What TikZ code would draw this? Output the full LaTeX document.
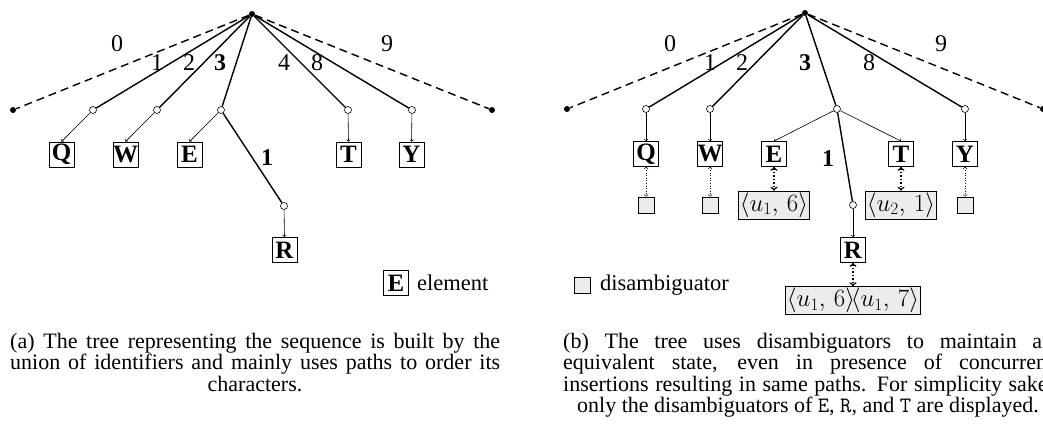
\documentclass[tikz,border=0pt]{standalone}
\usepackage[no-math]{fontspec}
\setmainfont{Liberation Serif}
\begin{document}
\begin{tikzpicture}[x=1pt,y=-1pt,
  edge/.style={line width=1.4pt},
  dashedge/.style={line width=1.4pt, dash pattern=on 8pt off 5pt},
  rootdot/.style={circle,fill,inner sep=0pt,minimum size=6pt},
  hole/.style={circle,draw,fill=white,inner sep=0pt,minimum size=7pt,line width=0.6pt},
  elem/.style={draw,line width=0.8pt,inner sep=0pt,minimum width=25pt,minimum height=25pt,font=\fontsize{25}{25}\selectfont\bfseries},
  arr/.style={->,>=to,line width=0.6pt},
  lbl/.style={font=\fontsize{24}{24}\selectfont, inner sep=0pt},
  blbl/.style={font=\fontsize{24}{24}\selectfont\bfseries, inner sep=0pt},
  legtext/.style={font=\fontsize{22.5}{22.5}\selectfont, inner sep=0pt, anchor=west},
  dbox/.style={draw,fill=gray!15,line width=0.8pt,minimum size=16pt,inner sep=0pt},
  dtext/.style={draw,fill=gray!15,line width=0.8pt,inner sep=1.5pt,minimum height=26pt,font=\fontsize{24}{24}\selectfont},
  thinlink/.style={<->,>=to,dotted,line width=0.6pt},
  thicklink/.style={<->,>=to,dotted,line width=1.5pt},
  captext/.style={font=\fontsize{22}{22}\selectfont, inner sep=0pt, anchor=base west},
  captextc/.style={font=\fontsize{22}{22}\selectfont, inner sep=0pt, anchor=base},
]
\clip (0,0) rectangle (1043,423);

% ---------------- (a) ----------------
\node[rootdot] (ra) at (252,14) {};
\node[rootdot] (a0) at (13,110) {};
\node[rootdot] (a9) at (492,110) {};
\node[hole] (ahq) at (93,110) {};
\node[hole] (ahw) at (157,110) {};
\node[hole] (ahe) at (221,110) {};
\node[hole] (aht) at (348,110) {};
\node[hole] (ahy) at (412,110) {};
\node[hole] (ahr) at (284,206) {};
\node[elem] (aQ) at (61.5,154.5) {Q};
\node[elem] (aW) at (125.5,154.5) {W};
\node[elem] (aE) at (189.5,154.5) {E};
\node[elem] (aT) at (348.5,154.5) {T};
\node[elem] (aY) at (411.5,154.5) {Y};
\node[elem] (aR) at (284.5,250) {R};

\draw[dashedge] (ra) -- (a0);
\draw[dashedge] (ra) -- (a9);
\draw[edge] (ra) -- (ahq);
\draw[edge] (ra) -- (ahw);
\draw[edge] (ra) -- (ahe);
\draw[edge] (ra) -- (aht);
\draw[edge] (ra) -- (ahy);
\draw[edge] (ahe) -- (ahr);
\draw[arr] (ahq) -- (aQ.north);
\draw[arr] (ahw) -- (aW.north);
\draw[arr] (ahe) -- (aE.north);
\draw[arr] (aht) -- (aT.north);
\draw[arr] (ahy) -- (aY.north);
\draw[arr] (ahr) -- (aR.north);

\node[lbl] (al0) at (117,44) {0};
\node[lbl] (al9) at (387,44) {9};
\node[lbl] (al1) at (157,63) {1};
\node[lbl] (al2) at (189,63) {2};
\node[blbl] (al3) at (220,63) {3};
\node[lbl] (al4) at (284,63) {4};
\node[lbl] (al8) at (317,63) {8};
\node[blbl] (al1b) at (267,158) {1};

\node[elem] (alegE) at (396,283) {E};
\node[legtext] (alegT) at (417,283) {element};

% ---------------- (b) ----------------
\node[rootdot] (rb) at (805,13) {};
\node[rootdot] (b0) at (567,109) {};
\node[rootdot] (b9) at (1043,109) {};
\node[hole] (bhq) at (646,109) {};
\node[hole] (bhw) at (710,109) {};
\node[hole] (bhe) at (837,109) {};
\node[hole] (bhy) at (965,109) {};
\node[hole] (bhr) at (853,205) {};
\node[elem] (bQ) at (646,154) {Q};
\node[elem] (bW) at (710,154) {W};
\node[elem] (bE) at (774,154) {E};
\node[elem] (bT) at (901,154) {T};
\node[elem] (bY) at (965,154) {Y};
\node[elem] (bR) at (853,250) {R};

\node[dbox] (dq) at (646,205) {};
\node[dbox] (dw) at (710,205) {};
\node[dbox] (dy) at (965,205) {};
\node[dtext] (de) at (774,205) {$\langle u_1,\,6\rangle$};
\node[dtext] (dt) at (901,205) {$\langle u_2,\,1\rangle$};
\node[dtext] (dr) at (853,300.5) {$\langle u_1,\,6\rangle\!\langle u_1,\,7\rangle$};

\draw[dashedge] (rb) -- (b0);
\draw[dashedge] (rb) -- (b9);
\draw[edge] (rb) -- (bhq);
\draw[edge] (rb) -- (bhw);
\draw[edge] (rb) -- (bhe);
\draw[edge] (rb) -- (bhy);
\draw[edge] (bhe) -- (bhr);
\draw[arr] (bhq) -- (bQ.north);
\draw[arr] (bhw) -- (bW.north);
\draw[arr] (bhe) -- (bE.north);
\draw[arr] (bhe) -- (bT.north);
\draw[arr] (bhy) -- (bY.north);
\draw[arr] (bhr) -- (bR.north);

\draw[thinlink] (bQ) -- (dq);
\draw[thinlink] (bW) -- (dw);
\draw[thinlink] (bY) -- (dy);
\draw[thicklink] (bE) -- (de);
\draw[thicklink] (bT) -- (dt);
\draw[thicklink] (bR) -- (dr);

\node[lbl] (bl0) at (670,44) {0};
\node[lbl] (bl9) at (941,44) {9};
\node[lbl] (bl1) at (710,63) {1};
\node[lbl] (bl2) at (742,63) {2};
\node[blbl] (bl3) at (805,63) {3};
\node[lbl] (bl8) at (869,63) {8};
\node[blbl] (bl1b) at (828,159) {1};

\node[dbox] (blegB) at (582,285) {};
\node[legtext] (blegT) at (600,285) {disambiguator};

% ---------------- captions ----------------
\node[captext] (ca1) at (10,348) {\makebox[490pt][s]{(a) The tree representing the sequence is built by the}};
\node[captext] (ca2) at (10,369.5) {\makebox[490pt][s]{union of identifiers and mainly uses paths to order its}};
\node[captextc] (ca3) at (255,391) {characters.};

\node[captext] (cb1) at (563,348) {\makebox[490pt][s]{(b) The tree uses disambiguators to maintain an}};
\node[captext] (cb2) at (563,369.5) {\makebox[490pt][s]{equivalent state, even in presence of concurrent}};
\node[captext] (cb3) at (563,391) {\makebox[490pt][s]{insertions resulting in same paths. For simplicity sake,}};
\node[captextc] (cb4) at (808,412.5) {only the disambiguators of \texttt{E}, \texttt{R}, and \texttt{T} are displayed.};
\end{tikzpicture}
\end{document}
